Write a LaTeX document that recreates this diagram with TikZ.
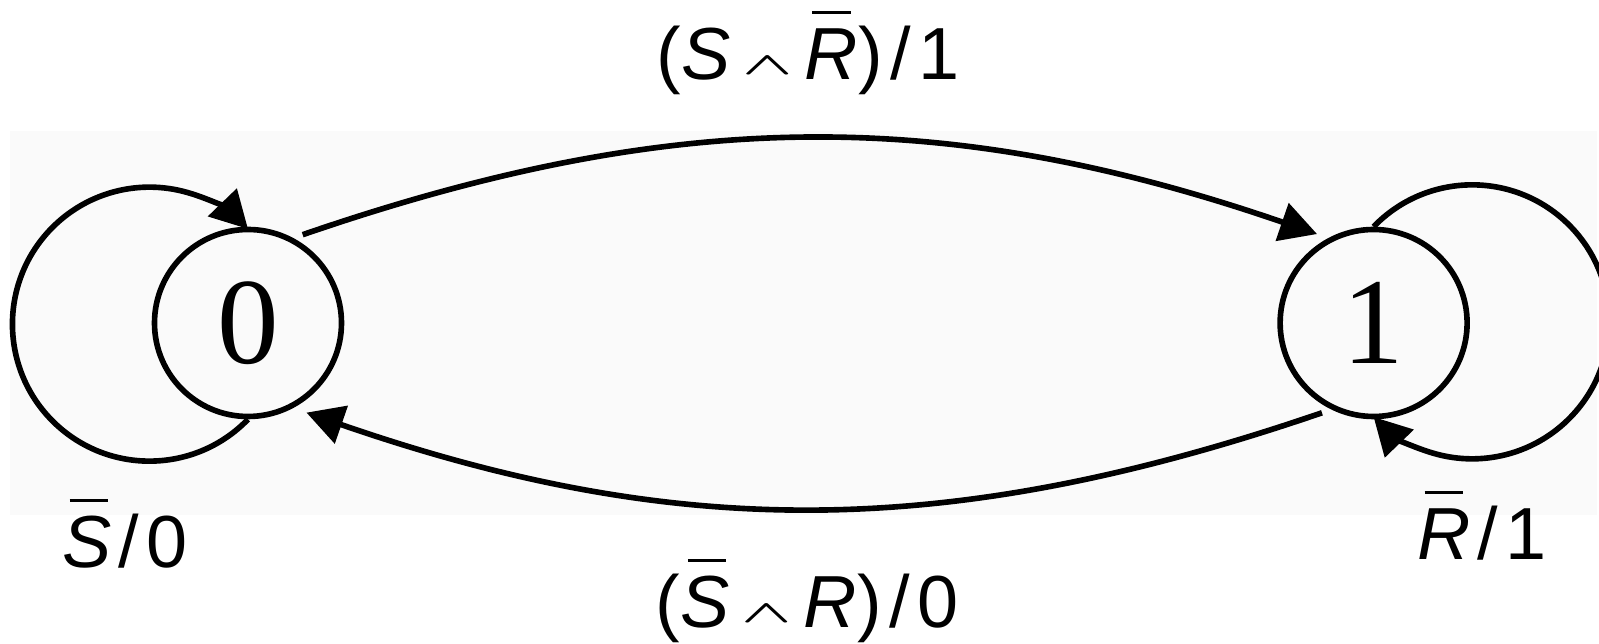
\documentclass[tikz,border=0pt]{standalone}
\usepackage{fontspec}
\setmainfont{Liberation Sans}
\newfontfamily\statefont{Liberation Serif}
\usepackage{graphicx}
\usepackage{tikz}
\usetikzlibrary{
    arrows.meta,
    positioning
}
\definecolor{PanelGray}{RGB}{250,250,250}
\newcommand{\negbar}[1]{%
    \makebox[0pt][l]{\hspace{0.1em}\raisebox{0.9em}{\rule{0.52em}{0.04em}}}%
    \textit{#1}}
\newcommand{\andop}{%
    \hspace{0.16em}\raisebox{0.08em}{\scalebox{1.3}[0.62]{$\scriptstyle\boldsymbol{\wedge}$}}\hspace{0.16em}}
\newcommand{\outsl}{\hspace{0.1em}/\hspace{0.1em}}
\usepackage{amsmath}

\begin{document}
\begin{tikzpicture}[
    statenode/.style={
        draw=black,
        circle,
        minimum size=1.87cm,
        inner sep=0pt,
        font=\statefont\fontsize{35}{40}\selectfont,
        line width=1.6pt
    },
%
    arrow/.style={
        -{Triangle[length=0.37cm,width=0.39cm]},
        line width=1.6pt,
        color=black
    },
%
    edgelabel/.style={
        anchor=base,
        inner sep=0pt,
        font=\fontsize{21}{25}\selectfont
    }
]
%
% Frame of the picture
%
\useasboundingbox (0,0) rectangle (15.99,6.44);
\fill[PanelGray] (0.10,1.29) rectangle (15.97,5.13);
%
% States
%
\node[statenode] (s0) at (2.48,3.21) {0};
%
\node[
    statenode,
    right=9.33cm of s0
] (s1) {1};
%
% Transitions between the states
%
\draw[arrow, shorten <=0.1cm, shorten >=0.12cm]
    (s0.62) to[bend left=19] (s1.118);
\draw[arrow, shorten <=0.1cm, shorten >=0.14cm]
    (s1.244) to[bend left=19] (s0.-62);
%
% Self loops
%
\draw[arrow]
    (s0.south)
    arc[start angle=-44, end angle=-316, radius=1.37cm];
\draw[arrow]
    (s1.north)
    arc[start angle=136, end angle=-136, radius=1.37cm];
%
% Labels
%
\node[edgelabel] (ltop) at (8.08,5.64) {(\textit{S}\andop\negbar{R})\outsl 1};
\node[edgelabel] (lbot) at (8.07,0.16) {(\negbar{S}\andop\textit{R})\outsl 0};
\node[edgelabel] (lzero) at (1.25,0.76) {\negbar{S}\outsl 0};
\node[edgelabel] (lone) at (14.82,0.84) {\negbar{R}\outsl 1};
%
\end{tikzpicture}
\end{document}
